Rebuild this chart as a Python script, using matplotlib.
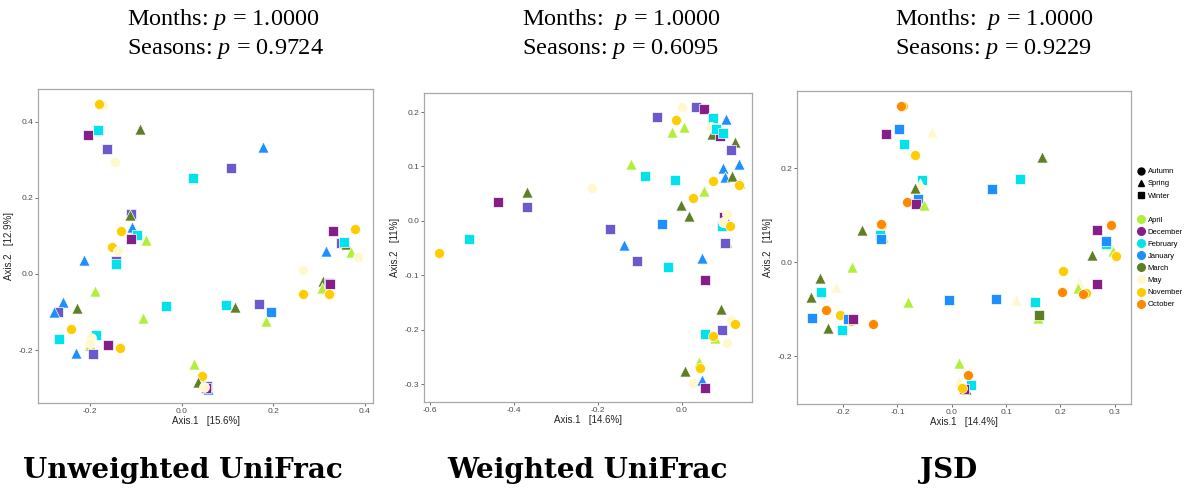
import matplotlib
matplotlib.use("Agg")
import matplotlib.pyplot as plt
from matplotlib.lines import Line2D

plt.rcParams["mathtext.fontset"] = "custom"
plt.rcParams["mathtext.rm"] = "Liberation Serif"
plt.rcParams["mathtext.it"] = "Liberation Serif:italic"

# ---- colours for sampling months and markers for seasons ----
month_colors = {
    "April": "#B2EE3A",
    "December": "#861E8A",
    "February": "#00E2EC",
    "January": "#1E8FFF",
    "March": "#5F7F26",
    "May": "#FFF8CC",
    "November": "#FFCC00",
    "October": "#FF8A00",
    "Other": "#6A5ACD",
}
season_markers = {"Autumn": "o", "Spring": "^", "Winter": "s"}
legend_months = ["April", "December", "February", "January", "March",
                 "May", "November", "October"]

# ---- Unweighted UniFrac ordination ----
uw_x = [-0.172, -0.180, -0.205, -0.183, -0.091, -0.164, -0.145, 0.178, 0.108, 0.025,
        -0.110, -0.113, -0.108, -0.132, -0.097, -0.110, -0.078, -0.153, -0.140, -0.213,
        -0.143, -0.144, -0.143, 0.330, 0.378, 0.347, 0.360, 0.354, 0.315, 0.369,
        0.385, 0.264, 0.309, 0.306, 0.322, 0.324, 0.266, 0.326, 0.322, -0.260,
        -0.271, -0.280, -0.228, -0.189, -0.084, -0.035, 0.096, 0.116, 0.168, 0.196,
        0.185, -0.241, -0.268, -0.187, -0.200, -0.200, -0.198, -0.200, -0.160, -0.134,
        -0.231, -0.193, 0.027, 0.044, 0.036, 0.058, 0.056, 0.052, 0.049]
uw_y = [0.445, 0.447, 0.365, 0.378, 0.380, 0.328, 0.295, 0.333, 0.278, 0.251,
        0.157, 0.155, 0.123, 0.113, 0.102, 0.093, 0.088, 0.072, 0.060, 0.037,
        0.025, 0.034, 0.027, 0.113, 0.119, 0.081, 0.080, 0.083, 0.060, 0.059,
        0.045, 0.010, -0.018, -0.037, -0.025, -0.027, -0.053, -0.053, -0.053, -0.073,
        -0.099, -0.101, -0.090, -0.046, -0.116, -0.084, -0.082, -0.086, -0.080, -0.099,
        -0.123, -0.145, -0.171, -0.161, -0.187, -0.185, -0.169, -0.182, -0.186, -0.194,
        -0.208, -0.210, -0.237, -0.269, -0.285, -0.302, -0.294, -0.300, -0.298]
uw_month = ["May", "November", "December", "February", "March", "Other", "May", "January", "Other", "February",
            "Other", "March", "January", "November", "February", "December", "April", "November", "May", "January",
            "April", "Other", "February", "December", "November", "Other", "March", "February", "January", "April",
            "May", "May", "March", "April", "Other", "December", "November", "May", "November", "January",
            "Other", "January", "March", "April", "April", "February", "February", "March", "Other", "January",
            "April", "November", "February", "February", "March", "April", "May", "May", "December", "November",
            "January", "Other", "April", "November", "March", "January", "Other", "December", "May"]
uw_season = ["Autumn", "Autumn", "Winter", "Winter", "Spring", "Winter", "Autumn", "Spring", "Winter", "Winter",
             "Winter", "Spring", "Spring", "Autumn", "Winter", "Winter", "Spring", "Autumn", "Autumn", "Spring",
             "Spring", "Winter", "Winter", "Winter", "Autumn", "Winter", "Spring", "Winter", "Spring", "Spring",
             "Autumn", "Autumn", "Spring", "Spring", "Winter", "Winter", "Autumn", "Autumn", "Autumn", "Spring",
             "Winter", "Spring", "Spring", "Spring", "Spring", "Winter", "Winter", "Spring", "Winter", "Winter",
             "Spring", "Autumn", "Winter", "Winter", "Spring", "Spring", "Autumn", "Autumn", "Winter", "Autumn",
             "Spring", "Winter", "Spring", "Autumn", "Spring", "Spring", "Winter", "Winter", "Autumn"]

# ---- Weighted UniFrac ordination ----
w_x = [0.001, 0.033, 0.052, -0.060, -0.014, 0.075, 0.104, -0.024, 0.006, 0.069,
       0.072, 0.090, 0.082, 0.097, 0.126, 0.117, -0.120, 0.137, 0.099, -0.087,
       -0.017, 0.102, 0.119, 0.075, 0.139, 0.137, -0.215, 0.053, 0.026, -0.369,
       -0.437, -0.369, -0.002, 0.018, 0.096, 0.101, 0.107, 0.095, 0.097, 0.114,
       -0.171, -0.048, 0.107, 0.102, -0.137, -0.106, -0.033, 0.047, 0.056, -0.579,
       -0.506, 0.094, 0.118, 0.126, 0.096, 0.054, 0.080, 0.073, 0.107, 0.040,
       0.044, 0.008, 0.026, 0.049, 0.055]
w_y = [0.210, 0.210, 0.205, 0.191, 0.186, 0.189, 0.188, 0.164, 0.173, 0.172,
       0.159, 0.156, 0.168, 0.162, 0.145, 0.131, 0.105, 0.104, 0.098, 0.083,
       0.075, 0.080, 0.083, 0.074, 0.069, 0.066, 0.060, 0.055, 0.042, 0.053,
       0.035, 0.026, 0.029, 0.009, 0.004, 0.007, 0.012, -0.010, -0.002, -0.009,
       -0.015, -0.006, -0.039, -0.041, -0.045, -0.074, -0.085, -0.069, -0.108, -0.059,
       -0.034, -0.162, -0.183, -0.189, -0.200, -0.208, -0.216, -0.212, -0.224, -0.259,
       -0.270, -0.276, -0.298, -0.292, -0.308]
w_month = ["May", "Other", "December", "Other", "November", "February", "January", "April", "April", "May",
           "March", "December", "February", "February", "March", "Other", "April", "January", "January", "February",
           "February", "January", "March", "November", "April", "November", "May", "April", "November", "March",
           "December", "Other", "March", "March", "January", "December", "May", "February", "May", "November",
           "Other", "January", "April", "Other", "January", "Other", "February", "January", "December", "November",
           "February", "March", "May", "November", "Other", "February", "April", "November", "May", "April",
           "November", "March", "May", "January", "December"]
w_season = ["Autumn", "Winter", "Winter", "Winter", "Autumn", "Winter", "Spring", "Spring", "Spring", "Autumn",
            "Spring", "Winter", "Winter", "Winter", "Spring", "Winter", "Spring", "Spring", "Spring", "Winter",
            "Winter", "Spring", "Spring", "Autumn", "Spring", "Autumn", "Autumn", "Spring", "Autumn", "Spring",
            "Winter", "Winter", "Spring", "Spring", "Spring", "Winter", "Autumn", "Winter", "Autumn", "Autumn",
            "Winter", "Winter", "Spring", "Winter", "Spring", "Winter", "Winter", "Spring", "Winter", "Autumn",
            "Winter", "Spring", "Autumn", "Autumn", "Winter", "Winter", "Spring", "Autumn", "Autumn", "Spring",
            "Autumn", "Spring", "Autumn", "Spring", "Winter"]

# ---- Jensen-Shannon divergence ordination ----
jsd_x = [-0.089, -0.094, -0.098, -0.121, -0.088, -0.037, -0.068, 0.167, 0.125, 0.074,
         -0.055, -0.059, -0.068, -0.063, -0.082, -0.066, -0.052, -0.129, -0.130, -0.166,
         -0.127, -0.133, -0.131, -0.183, -0.242, -0.214, -0.240, -0.259, -0.081, -0.006,
         0.081, 0.119, 0.154, -0.232, -0.205, -0.257, -0.186, -0.192, -0.181, -0.227,
         -0.203, -0.145, 0.159, 0.161, 0.205, 0.203, 0.013, 0.030, 0.014, 0.036,
         0.027, 0.023, 0.018, 0.267, 0.294, 0.284, 0.284, 0.259, 0.296, 0.302,
         0.234, 0.233, 0.267, 0.247, 0.241]
jsd_y = [0.333, 0.334, 0.285, 0.274, 0.253, 0.278, 0.229, 0.224, 0.177, 0.156,
         0.175, 0.167, 0.159, 0.134, 0.129, 0.124, 0.122, 0.080, 0.082, 0.069,
         0.053, 0.058, 0.050, -0.011, -0.033, -0.053, -0.064, -0.075, -0.084, -0.080,
         -0.078, -0.081, -0.084, -0.102, -0.112, -0.118, -0.125, -0.120, -0.121, -0.139,
         -0.144, -0.132, -0.118, -0.112, -0.018, -0.064, -0.214, -0.240, -0.253, -0.261,
         -0.270, -0.269, -0.268, 0.069, 0.079, 0.039, 0.046, 0.016, 0.025, 0.014,
         -0.042, -0.055, -0.046, -0.065, -0.068]
jsd_month = ["November", "October", "January", "December", "February", "May", "November", "March", "February", "January",
             "February", "May", "March", "January", "October", "December", "April", "November", "October", "March",
             "April", "February", "January", "April", "March", "May", "February", "March", "April", "January",
             "January", "May", "February", "October", "November", "January", "November", "January", "December", "March",
             "February", "October", "April", "March", "November", "October", "April", "October", "May", "February",
             "March", "December", "November", "December", "October", "February", "January", "March", "April", "November",
             "May", "April", "December", "November", "October"]
jsd_season = ["Autumn", "Autumn", "Winter", "Winter", "Winter", "Spring", "Autumn", "Spring", "Winter", "Winter",
              "Winter", "Spring", "Spring", "Winter", "Autumn", "Winter", "Spring", "Autumn", "Autumn", "Spring",
              "Spring", "Winter", "Winter", "Spring", "Spring", "Spring", "Winter", "Spring", "Spring", "Winter",
              "Winter", "Spring", "Winter", "Autumn", "Autumn", "Winter", "Autumn", "Winter", "Winter", "Spring",
              "Winter", "Autumn", "Spring", "Winter", "Autumn", "Autumn", "Spring", "Autumn", "Spring", "Winter",
              "Spring", "Winter", "Autumn", "Winter", "Autumn", "Winter", "Winter", "Spring", "Spring", "Autumn",
              "Spring", "Spring", "Winter", "Autumn", "Autumn"]

# ---- panel text ----
panel_titles = ["Unweighted UniFrac", "Weighted UniFrac", "JSD"]
months_lines = [r"Months: $p$ = 1.0000", r"Months:  $p$ = 1.0000", r"Months:  $p$ = 1.0000"]
seasons_lines = [r"Seasons: $p$ = 0.9724", r"Seasons: $p$ = 0.6095", r"Seasons: $p$ = 0.9229"]
axis1_labels = ["Axis.1   [15.6%]", "Axis.1   [14.6%]", "Axis.1   [14.4%]"]
axis2_labels = ["Axis.2   [12.9%]", "Axis.2   [11%]", "Axis.2   [11%]"]
x_ticks = [[-0.2, 0.0, 0.2, 0.4], [-0.6, -0.4, -0.2, 0.0], [-0.2, -0.1, 0.0, 0.1, 0.2, 0.3]]
y_ticks = [[-0.2, 0.0, 0.2, 0.4], [-0.3, -0.2, -0.1, 0.0, 0.1, 0.2], [-0.2, 0.0, 0.2]]
x_limits = [(-0.314, 0.418), (-0.614, 0.167), (-0.285, 0.330)]
y_limits = [(-0.339, 0.486), (-0.333, 0.235), (-0.302, 0.365)]

W, H = 1191, 491
fig = plt.figure(figsize=(W / 100, H / 100), dpi=100)
fig.patch.set_facecolor("white")

boxes_px = [(38, 89, 373, 403), (424, 93, 752, 402), (797, 91, 1131, 404)]
header_left = [127, 522, 895]
datasets = [(uw_x, uw_y, uw_month, uw_season),
            (w_x, w_y, w_month, w_season),
            (jsd_x, jsd_y, jsd_month, jsd_season)]
marker_sizes = {"o": 52, "^": 64, "s": 48}

axes = []
for i, (l, t, r, b) in enumerate(boxes_px):
    ax = fig.add_axes([l / W, (H - b) / H, (r - l) / W, (b - t) / H])
    axes.append(ax)
    xs, ys, months, seasons = datasets[i]
    for xv, yv, m, s in zip(xs, ys, months, seasons):
        mk = season_markers[s]
        ax.scatter([xv], [yv], s=marker_sizes[mk], marker=mk, c=month_colors[m],
                   edgecolors="white", linewidths=0.5, zorder=3)
    ax.set_xlim(*x_limits[i])
    ax.set_ylim(*y_limits[i])
    ax.set_xticks(x_ticks[i])
    ax.set_yticks(y_ticks[i])
    ax.set_xticklabels([f"{v:.1f}" for v in x_ticks[i]])
    ax.set_yticklabels([f"{v:.1f}" for v in y_ticks[i]])
    ax.tick_params(direction="out", length=2, width=0.5, color="#333333",
                   labelsize=6, labelcolor="#4D4D4D", pad=1.5)
    for lab in ax.get_xticklabels() + ax.get_yticklabels():
        lab.set_family("Liberation Sans")
    for sp in ax.spines.values():
        sp.set_color("#A8A8A8")
        sp.set_linewidth(0.9)
    ax.set_xlabel(axis1_labels[i], fontsize=7, family="Liberation Sans",
                  color="#222222", labelpad=1)
    ax.set_ylabel(axis2_labels[i], fontsize=7, family="Liberation Sans",
                  color="#222222", labelpad=3)

    # p-value headers
    hx = header_left[i] / W
    fig.text(hx, 1 - 19 / H, months_lines[i], ha="left", va="center",
             family="Liberation Serif", fontsize=17.5)
    fig.text(hx, 1 - 49 / H, seasons_lines[i], ha="left", va="center",
             family="Liberation Serif", fontsize=17.5)

title_centers = [183, 587, 949]
for name, cxp in zip(panel_titles, title_centers):
    fig.text(cxp / W, 1 - 470 / H, name, ha="center", va="center",
             family="DejaVu Serif", fontsize=20, fontweight="bold")

# legend: seasons (shape) then months (colour)
handles = [Line2D([], [], ls="none", marker=season_markers[s], color="black", markersize=5)
           for s in ["Autumn", "Spring", "Winter"]]
labels = ["Autumn", "Spring", "Winter"]
handles.append(Line2D([], [], ls="none"))
labels.append("")
for m in legend_months:
    handles.append(Line2D([], [], ls="none", marker="o", color=month_colors[m], markersize=5.5))
    labels.append(m)
fig.legend(handles, labels, loc="upper left", bbox_to_anchor=(1137 / W, 1 - 168 / H),
           frameon=False, handlelength=1.0, handletextpad=0.4,
           labelspacing=0.62, borderaxespad=0, borderpad=0,
           prop={"family": "Liberation Sans", "size": 5.5})

fig.savefig("out.png", dpi=100, facecolor="white")
